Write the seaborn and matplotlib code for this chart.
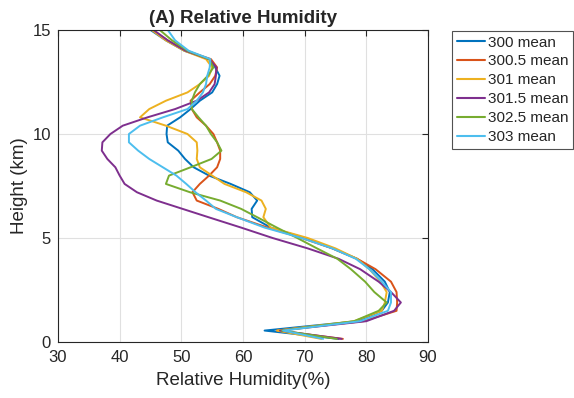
import numpy as np
import pandas as pd
import matplotlib
matplotlib.use("Agg")
import matplotlib.pyplot as plt
import seaborn as sns

# ---- data ----
heights = [0.15, 0.55, 1.0, 1.5, 1.9, 2.4, 2.9, 3.5, 4.0, 4.5, 5.0, 5.5, 6.0, 6.4,
           6.8, 7.2, 7.6, 8.0, 8.4, 8.8, 9.2, 9.6, 10.0, 10.4, 10.8, 11.2, 11.6,
           12.0, 12.4, 12.8, 13.2, 13.6, 14.0, 14.5, 15.0]

rh_300 = [75.5, 63.5, 78.5, 82.5, 83.5, 83.8, 83.0, 81.0, 78.5, 74.5, 70.0, 64.5, 61.5, 61.4,
          62.3, 61.1, 58.0, 54.5, 52.0, 50.6, 49.5, 47.8, 47.6, 47.7, 49.8, 51.5, 53.0,
          55.0, 55.8, 56.2, 55.5, 54.5, 50.5, 47.5, 45.0]
rh_300_5 = [76.2, 65.5, 79.5, 84.9, 85.0, 84.9, 84.0, 81.5, 78.5, 74.5, 69.5, 64.0, 59.0, 56.0,
            52.5, 51.8, 53.0, 54.5, 55.8, 56.3, 56.3, 55.8, 55.2, 54.0, 52.5, 51.7, 51.5,
            53.0, 54.6, 55.5, 55.8, 54.8, 50.8, 47.8, 45.3]
rh_301 = [72.7, 65.5, 78.0, 82.5, 83.0, 83.3, 82.3, 80.5, 78.5, 75.0, 70.5, 64.5, 63.3, 63.7,
          63.0, 60.5, 57.0, 55.0, 53.0, 52.5, 52.6, 52.5, 51.0, 47.5, 43.3, 44.8, 47.5,
          51.0, 53.0, 54.5, 55.0, 54.0, 50.5, 47.5, 45.2]
rh_301_5 = [76.0, 66.0, 80.0, 84.5, 85.6, 84.0, 82.0, 79.0, 75.5, 70.5, 64.8, 59.7, 54.4, 50.2,
            46.0, 42.8, 40.8, 40.0, 39.3, 38.0, 37.1, 37.2, 38.5, 40.5, 44.5, 49.0, 52.5,
            54.5, 55.4, 55.6, 55.7, 54.5, 50.7, 47.8, 45.5]
rh_302_5 = [75.2, 66.3, 78.0, 82.0, 83.3, 81.3, 79.8, 77.5, 75.3, 72.0, 68.8, 65.5, 62.3, 59.7,
            56.3, 51.4, 47.5, 48.0, 51.5, 54.9, 56.5, 55.8, 54.8, 54.0, 52.8, 51.7, 51.7,
            52.2, 53.0, 54.3, 55.2, 54.5, 51.0, 48.5, 46.5]
rh_303 = [73.0, 66.5, 79.0, 83.5, 84.0, 84.0, 82.5, 80.5, 78.3, 74.5, 69.5, 63.5, 59.0, 55.6,
          54.0, 52.3, 50.8, 49.2, 47.0, 44.8, 43.0, 41.5, 41.5, 43.3, 47.0, 51.0, 52.5,
          53.5, 54.0, 54.2, 54.6, 54.7, 51.2, 49.0, 47.8]

series_names = ["300 mean", "300.5 mean", "301 mean", "301.5 mean", "302.5 mean", "303 mean"]
series_values = [rh_300, rh_300_5, rh_301, rh_301_5, rh_302_5, rh_303]
colors = ["#0072BD", "#D95319", "#EDB120", "#7E2F8E", "#77AC30", "#4DBEEE"]

x_ticks = [30, 40, 50, 60, 70, 80, 90]
y_ticks = [0, 5, 10, 15]

# ---- build long table ----
frames = []
for name, vals in zip(series_names, series_values):
    frames.append(pd.DataFrame({"rh": vals, "height": heights, "series": name}))
df = pd.concat(frames, ignore_index=True)

sns.set_theme(style="white")
plt.rcParams["font.family"] = ["Liberation Sans", "DejaVu Sans"]

fig = plt.figure(figsize=(5.74, 3.98), dpi=100)
ax = fig.add_axes([58 / 574, 1 - 342 / 398, 370 / 574, 312 / 398])

sns.lineplot(data=df, x="rh", y="height", hue="series", hue_order=series_names,
             palette=colors, sort=False, estimator=None, units="series",
             linewidth=1.4, ax=ax)

ax.set_xlim(30, 90)
ax.set_ylim(0, 15)
ax.set_xticks(x_ticks)
ax.set_yticks(y_ticks)
ax.grid(True, color="#E0E0E0", linewidth=0.8)
ax.set_axisbelow(True)
for s in ax.spines.values():
    s.set_color("#262626")
    s.set_linewidth(0.8)
ax.tick_params(direction="in", length=4, width=0.8, color="#262626",
               top=True, right=True, labelsize=12, labelcolor="#262626")
ax.tick_params(axis="x", pad=6)
ax.tick_params(axis="y", pad=5)
ax.set_xlabel("Relative Humidity(%)", fontsize=13.5, color="#262626", labelpad=5)
ax.set_ylabel("Height (km)", fontsize=13.5, color="#262626", labelpad=3)
ax.set_title("(A) Relative Humidity", fontsize=13.5, fontweight="bold", pad=5)

leg = ax.legend(loc="upper left", bbox_to_anchor=(452 / 574, 1 - 31 / 398),
                bbox_transform=fig.transFigure, borderaxespad=0, fontsize=11,
                frameon=True, fancybox=False, handlelength=1.85, handletextpad=0.2,
                labelspacing=0.32, borderpad=0.3, title=None)
leg.get_frame().set_edgecolor("#262626")
leg.get_frame().set_linewidth(0.8)
for line in leg.get_lines():
    line.set_linewidth(1.5)

fig.savefig("out.png", dpi=100, facecolor="white")
